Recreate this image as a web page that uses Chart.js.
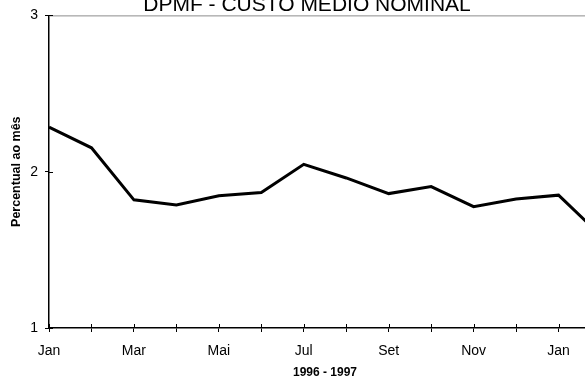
<!DOCTYPE html>
<html>
<head>
<meta charset="utf-8">
<script src="https://cdn.jsdelivr.net/npm/chart.js@4/dist/chart.umd.min.js"></script>
<style>
html,body{margin:0;padding:0;overflow:hidden;background:#fff;width:585px;height:376px;}
canvas{display:block;}
</style>
</head>
<body>
<canvas id="c" width="614" height="376"></canvas>
<script>
const chartTitle = 'DPMF - CUSTO MÉDIO NOMINAL';
const months = ['Jan','Fev','Mar','Abr','Mai','Jun','Jul','Ago','Set','Out','Nov','Dez','Jan','Fev'];
const custoMedio = [2.285, 2.153, 1.820, 1.787, 1.846, 1.867, 2.047, 1.960, 1.860, 1.905, 1.776, 1.825, 1.850, 1.59];
const yTicks = [1, 2, 3];
const xTitle = '1996 - 1997';
const yTitle = 'Percentual ao mês';

const FONT = '"Liberation Sans", Arial, sans-serif';

const decor = {
  id: 'decor',
  beforeDatasetsDraw(chart) {
    const {ctx, chartArea: a} = chart;
    ctx.save();
    ctx.strokeStyle = '#8c8c8c';
    ctx.lineWidth = 1;
    ctx.beginPath();
    ctx.moveTo(a.left, a.top + 0.5);
    ctx.lineTo(a.right, a.top + 0.5);
    ctx.lineTo(a.right, a.bottom);
    ctx.stroke();
    ctx.restore();
  },
  afterDraw(chart) {
    const {ctx, chartArea: a, scales} = chart;
    ctx.save();
    ctx.strokeStyle = '#000';
    ctx.lineWidth = 1;
    ctx.beginPath();
    scales.x.ticks.forEach((t, i) => {
      const px = Math.round(scales.x.getPixelForTick(i)) + 0.5;
      ctx.moveTo(px, a.bottom);
      ctx.lineTo(px, a.bottom - 4);
    });
    scales.y.ticks.forEach((t, i) => {
      const py = Math.round(scales.y.getPixelForTick(i)) + 0.5;
      ctx.moveTo(a.left, py);
      ctx.lineTo(a.left + 4, py);
    });
    ctx.stroke();
    ctx.fillStyle = '#000';
    ctx.font = '21px ' + FONT;
    ctx.textAlign = 'center';
    ctx.textBaseline = 'alphabetic';
    ctx.fillText(chartTitle, 307, 11);
    ctx.restore();
  }
};

new Chart(document.getElementById('c'), {
  type: 'line',
  data: {
    labels: months,
    datasets: [{
      data: custoMedio,
      borderColor: '#000',
      borderWidth: 3,
      pointRadius: 0,
      tension: 0,
      fill: false
    }]
  },
  options: {
    responsive: false,
    animation: false,
    events: [],
    layout: {padding: {top: 13, right: 13, left: 0, bottom: 0}},
    plugins: {legend: {display: false}, tooltip: {enabled: false}, title: {display: false}},
    scales: {
      x: {
        type: 'category',
        offset: false,
        afterFit(s) { s.height = 48; },
        grid: {drawOnChartArea: false, drawTicks: true, tickLength: 4, tickColor: '#000', tickWidth: 1},
        border: {color: '#000', width: 1.5},
        ticks: {
          autoSkip: false, maxRotation: 0, minRotation: 0, padding: 11,
          color: '#000', font: {family: FONT, size: 14},
          callback: (v, i) => (i % 2 === 0 ? months[i] : '')
        },
        title: {
          display: true, text: xTitle, color: '#000',
          font: {family: FONT, size: 12, weight: 'bold', lineHeight: 1},
          padding: {top: 0, bottom: -3}
        }
      },
      y: {
        type: 'linear',
        min: 1, max: 3,
        afterFit(s) { s.width = 49; },
        afterBuildTicks(s) { s.ticks = yTicks.map(v => ({value: v})); },
        grid: {drawOnChartArea: false, drawTicks: true, tickLength: 4, tickColor: '#000', tickWidth: 1},
        border: {color: '#000', width: 1.5},
        ticks: {padding: 7, color: '#000', font: {family: FONT, size: 14}},
        title: {
          display: true, text: yTitle, color: '#000',
          font: {family: FONT, size: 12.5, weight: 'bold', lineHeight: 1.2},
          padding: {top: 9, bottom: 0}
        }
      }
    }
  },
  plugins: [decor]
});
</script>
</body>
</html>
